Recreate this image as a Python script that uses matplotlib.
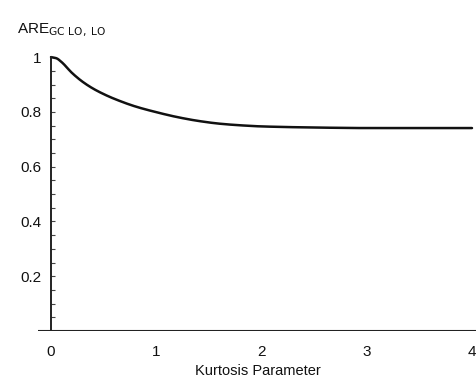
import matplotlib
matplotlib.use("Agg")
import matplotlib.pyplot as plt
import numpy as np

plt.rcParams['font.family'] = ['Liberation Sans', 'DejaVu Sans']

kurtosis = [0.0, 0.05, 0.1, 0.2, 0.3, 0.4, 0.5, 0.6, 0.8, 1.0, 1.2, 1.4, 1.6, 1.8, 2.0, 2.5, 3.0, 3.5, 4.0]
are = [1.0, 0.996, 0.982, 0.942, 0.910, 0.885, 0.865, 0.848, 0.820, 0.799, 0.781, 0.767, 0.757, 0.751, 0.747, 0.743, 0.741, 0.741, 0.741]
xticks = [0, 1, 2, 3, 4]
yticks = [0.2, 0.4, 0.6, 0.8, 1]
ytick_labels = ['0.2', '0.4', '0.6', '0.8', '1']


def pchip(x, y, xs):
    x = np.asarray(x, float)
    y = np.asarray(y, float)
    h = np.diff(x)
    d = np.diff(y) / h
    n = len(x)
    m = np.zeros(n)
    for k in range(1, n - 1):
        if d[k - 1] * d[k] <= 0:
            m[k] = 0.0
        else:
            w1 = 2 * h[k] + h[k - 1]
            w2 = h[k] + 2 * h[k - 1]
            m[k] = (w1 + w2) / (w1 / d[k - 1] + w2 / d[k])
    m[0] = d[0]
    m[-1] = d[-1]
    idx = np.clip(np.searchsorted(x, xs) - 1, 0, n - 2)
    t = (xs - x[idx]) / h[idx]
    h00 = 2 * t**3 - 3 * t**2 + 1
    h10 = t**3 - 2 * t**2 + t
    h01 = -2 * t**3 + 3 * t**2
    h11 = t**3 - t**2
    return h00 * y[idx] + h10 * h[idx] * m[idx] + h01 * y[idx + 1] + h11 * h[idx] * m[idx + 1]


fig = plt.figure(figsize=(4.77, 3.88), dpi=100)
ax = fig.add_axes([0.0805, 0.1469, 0.920, 0.720])
ax.set_xlim(-0.12, 4.05)
ax.set_ylim(0, 1.02)

xs = np.linspace(0, 4, 600)
ys = pchip(kurtosis, are, xs)
ax.plot(xs, ys, color='#111111', lw=1.8, solid_capstyle='round')

for s in ['top', 'right', 'bottom']:
    ax.spines[s].set_visible(False)
ax.spines['left'].set_position(('data', 0))
ax.spines['left'].set_visible(False)
ax.axhline(0, color='#222222', lw=1.5)
ax.plot([0, 0], [0, 1.0], color='#222222', lw=1.4)

ax.set_xticks(xticks)
ax.set_xticklabels([str(t) for t in xticks], fontsize=11, color='#111111')
ax.tick_params(axis='x', length=0, pad=10)
ax.set_yticks(yticks)
ax.set_yticklabels(ytick_labels, fontsize=11, color='#111111')
ax.set_yticks(np.arange(0.05, 1.0, 0.05), minor=True)
ax.tick_params(axis='y', which='both', direction='in', length=3, width=0.8, color='#444444', pad=7)

ax.set_xlabel('Kurtosis Parameter', fontsize=10.5, color='#111111', labelpad=4)
fig.text(0.035, 0.915, r'ARE$_{\mathrm{GC\ LO,\ LO}}$', fontsize=11, color='#111111')

fig.savefig('out.png', dpi=100)
